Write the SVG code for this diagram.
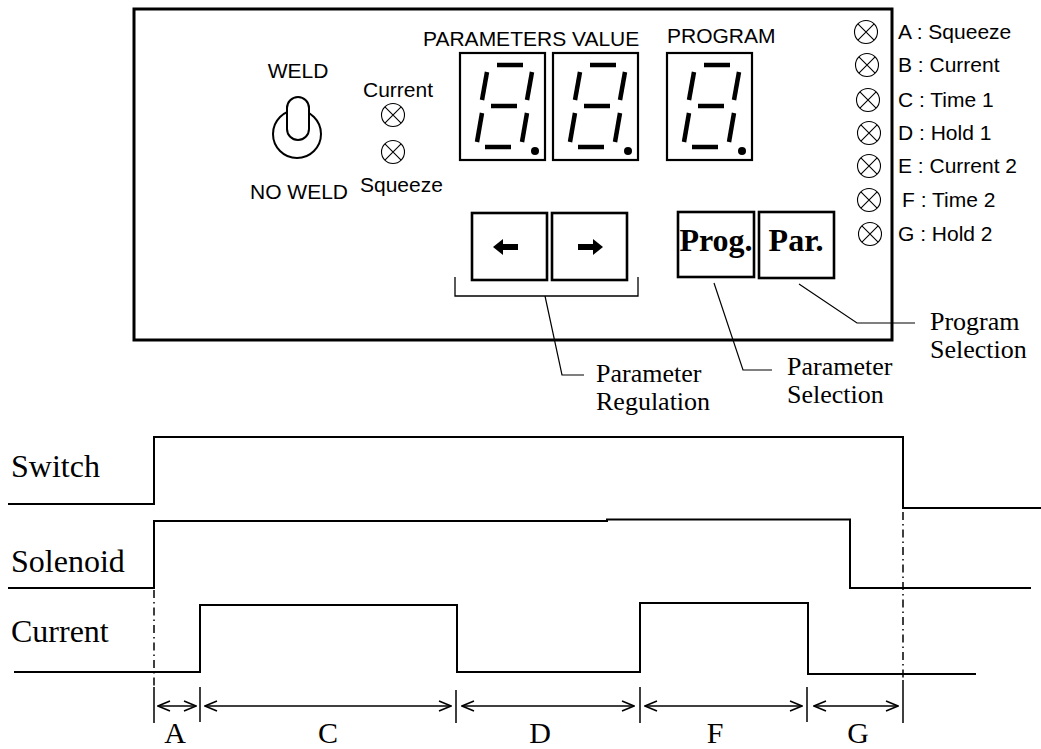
<svg xmlns="http://www.w3.org/2000/svg" width="1041" height="749" viewBox="0 0 1041 749">
<style>
.sans{font-family:"Liberation Sans",Arial,sans-serif;font-size:21px;fill:#000}
.serif{font-family:"Liberation Serif","Times New Roman",serif;fill:#000}
.lbl{font-size:26px}
.big{font-size:32px}
.tl{font-size:30px;text-anchor:middle}
.bold{font-weight:bold;font-size:32px;text-anchor:middle}
.ln{fill:none;stroke:#000}
.seg{stroke:#000;stroke-width:4.5;stroke-linecap:butt}
.box{fill:#fff;stroke:#000;stroke-width:2.2}
.btn{fill:#fff;stroke:#000;stroke-width:2.6}
.lamp{fill:none;stroke:#000;stroke-width:1.1}
.sig{fill:none;stroke:#000;stroke-width:2}
.dim{fill:none;stroke:#000;stroke-width:1.5}
</style>
<defs>
<g id="lampSym">
<circle class="lamp" cx="0" cy="0" r="11.5"/>
<path class="lamp" d="M-8.1,-8.1L8.1,8.1M8.1,-8.1L-8.1,8.1"/>
</g>
<g id="digit">
<rect class="box" x="0" y="0" width="85" height="107"/>
<line class="seg" x1="37" y1="12" x2="63" y2="12"/>
<line class="seg" x1="31" y1="53" x2="57" y2="53"/>
<line class="seg" x1="25" y1="94" x2="51" y2="94"/>
<line class="seg" x1="27" y1="19" x2="22" y2="47"/>
<line class="seg" x1="72" y1="19" x2="67" y2="47"/>
<line class="seg" x1="22" y1="60" x2="17" y2="89"/>
<line class="seg" x1="67" y1="60" x2="62" y2="89"/>
<circle cx="75" cy="98" r="4"/>
</g>
<marker id="ah" viewBox="0 0 14 12" refX="13" refY="6" markerWidth="14" markerHeight="12" markerUnits="userSpaceOnUse" orient="auto-start-reverse">
<path d="M1,1L13,6L1,11" fill="none" stroke="#000" stroke-width="1.5"/>
</marker>
</defs>

<g id="panel">
<rect x="134" y="9" width="758" height="331" fill="none" stroke="#000" stroke-width="3"/>
</g>

<g id="weld-switch">
<text class="sans" x="298" y="78" text-anchor="middle">WELD</text>
<circle cx="297" cy="134" r="24" fill="none" stroke="#000" stroke-width="2"/>
<rect x="287" y="97" width="22" height="43" rx="11" fill="#fff" stroke="#000" stroke-width="2"/>
<text class="sans" x="250" y="199">NO WELD</text>
</g>

<g id="status-lamps">
<text class="sans" x="363" y="97">Current</text>
<use href="#lampSym" x="393" y="115"/>
<use href="#lampSym" x="393" y="152"/>
<text class="sans" x="360" y="192">Squeeze</text>
</g>

<g id="parameters-value">
<text class="sans" x="423" y="46">PARAMETERS VALUE</text>
<use href="#digit" x="460" y="53"/>
<use href="#digit" x="553" y="53"/>
</g>

<g id="program-display">
<text class="sans" x="667" y="43">PROGRAM</text>
<use href="#digit" x="667" y="53"/>
</g>

<g id="legend">
<use href="#lampSym" x="866" y="32"/>
<text class="sans" x="898" y="39">A : Squeeze</text>
<use href="#lampSym" x="867" y="65"/>
<text class="sans" x="898" y="72">B : Current</text>
<use href="#lampSym" x="868" y="100"/>
<text class="sans" x="898" y="107">C : Time 1</text>
<use href="#lampSym" x="869" y="133"/>
<text class="sans" x="898" y="140">D : Hold 1</text>
<use href="#lampSym" x="869" y="166"/>
<text class="sans" x="898" y="173">E : Current 2</text>
<use href="#lampSym" x="869" y="200"/>
<text class="sans" x="902" y="207">F : Time 2</text>
<use href="#lampSym" x="870" y="234"/>
<text class="sans" x="898" y="241">G : Hold 2</text>
</g>

<g id="arrow-buttons">
<rect class="btn" x="472" y="213" width="75" height="67"/>
<path d="M493,247L503,239L503,244L518,244L518,250L503,250L503,255Z"/>
<rect class="btn" x="552" y="213" width="75" height="67"/>
<path d="M603,247L593,239L593,244L578,244L578,250L593,250L593,255Z"/>
</g>

<g id="prog-par-buttons">
<rect class="btn" x="678" y="212" width="76" height="65"/>
<text class="serif bold" x="716" y="251">Prog.</text>
<rect class="btn" x="759" y="212" width="75" height="66"/>
<text class="serif bold" x="796" y="251">Par.</text>
</g>

<g id="callout-labels">
<text class="serif lbl" x="596" y="382">Parameter</text>
<text class="serif lbl" x="596" y="410">Regulation</text>
<text class="serif lbl" x="787" y="375">Parameter</text>
<text class="serif lbl" x="787" y="403">Selection</text>
<text class="serif lbl" x="930" y="330">Program</text>
<text class="serif lbl" x="930" y="358">Selection</text>
</g>

<g id="connectors">
<path class="ln" stroke-width="1.3" d="M455,277V296H638V277"/>
<path class="ln" stroke-width="1.2" d="M545,296L562,375H584"/>
<path class="ln" stroke-width="1.2" d="M714,283L743,370H772"/>
<path class="ln" stroke-width="1.2" d="M799,284L857,323H915"/>
</g>

<g id="timing-labels">
<text class="serif big" x="11" y="477">Switch</text>
<text class="serif big" x="11" y="572">Solenoid</text>
<text class="serif big" x="11" y="642">Current</text>
</g>

<g id="signals">
<path class="sig" d="M8,504H154V437H903V508H1041"/>
<path class="sig" d="M8,588H154V521H607V519.5H850V588H1031"/>
<path class="sig" d="M14,672H200V605H457V672H640V603H808V674H976"/>
</g>

<g id="dimensions">
<path class="dim" stroke-width="1.2" stroke-dasharray="8,4,1.5,4" d="M154,590V687"/>
<path class="dim" stroke-width="1.2" stroke-dasharray="8,4,1.5,4" d="M903,512V678"/>
<path class="dim" d="M154,687V723M200,687V722M456,690V723M640,687V723M807,687V722M903,680V723"/>
<line class="dim" x1="158" y1="706" x2="196" y2="706" marker-start="url(#ah)" marker-end="url(#ah)"/>
<line class="dim" x1="205" y1="706" x2="451" y2="706" marker-start="url(#ah)" marker-end="url(#ah)"/>
<line class="dim" x1="462" y1="706" x2="634" y2="706" marker-start="url(#ah)" marker-end="url(#ah)"/>
<line class="dim" x1="645" y1="706" x2="802" y2="706" marker-start="url(#ah)" marker-end="url(#ah)"/>
<line class="dim" x1="814" y1="706" x2="898" y2="706" marker-start="url(#ah)" marker-end="url(#ah)"/>
<text class="serif tl" x="175" y="743">A</text>
<text class="serif tl" x="328" y="743">C</text>
<text class="serif tl" x="540" y="743">D</text>
<text class="serif tl" x="715" y="743">F</text>
<text class="serif tl" x="858" y="743">G</text>
</g>
</svg>
